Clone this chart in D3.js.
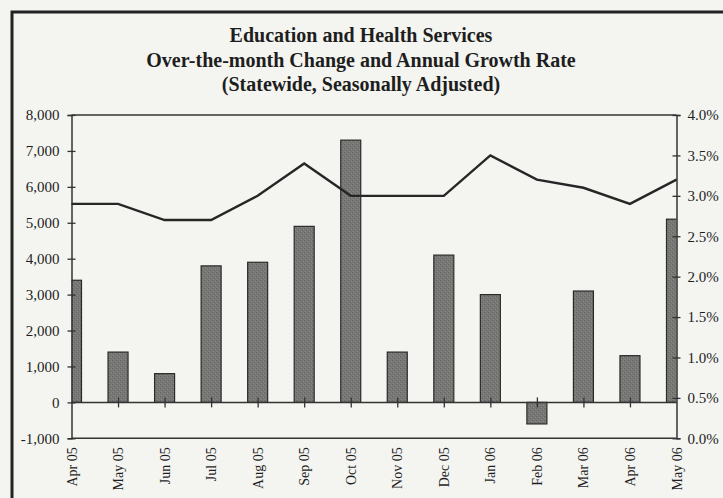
<!DOCTYPE html>
<html><head><meta charset="utf-8">
<script src="https://cdn.jsdelivr.net/npm/d3@7"></script>
<style>
html,body{margin:0;padding:0;background:#f4f5f1;}
svg{display:block;}
text{font-family:"Liberation Serif","Times New Roman",serif;fill:#1e1e1e;}
</style></head>
<body>
<script>
const categories = ["Apr 05","May 05","Jun 05","Jul 05","Aug 05","Sep 05","Oct 05","Nov 05","Dec 05","Jan 06","Feb 06","Mar 06","Apr 06","May 06"];
const monthlyChange = [3400,1400,800,3800,3900,4900,7300,1400,4100,3000,-600,3100,1300,5100];
const annualGrowth = [2.9,2.9,2.7,2.7,3.0,3.4,3.0,3.0,3.0,3.5,3.2,3.1,2.9,3.2];
const leftTicks = [-1000,0,1000,2000,3000,4000,5000,6000,7000,8000];
const rightTicks = [0,0.5,1.0,1.5,2.0,2.5,3.0,3.5,4.0];
const titleLines = ["Education and Health Services","Over-the-month Change and Annual Growth Rate","(Statewide, Seasonally Adjusted)"];

const W=723,H=498;
const svg=d3.select("body").append("svg").attr("width",W).attr("height",H);
svg.append("rect").attr("width",W).attr("height",H).attr("fill","#f4f5f1");

// outer frame
svg.append("path").attr("d","M12,"+H+" L12,12 L"+W+",12").attr("fill","none").attr("stroke","#222").attr("stroke-width",3);

const L=71.5,R=676.5,T=115,B=438.3;
const x=d3.scalePoint().domain(categories).range([L,R]).padding(0);
const yL=d3.scaleLinear().domain([-1000,8000]).range([B,T]);
const yR=d3.scaleLinear().domain([0,4]).range([B,T]);

// title
svg.append("g").selectAll("text").data(titleLines).join("text")
  .attr("x",361).attr("y",(d,i)=>42+i*24.5).attr("text-anchor","middle")
  .style("font-size","20px").style("font-weight","bold").text(d=>d);

// clip
svg.append("clipPath").attr("id","pc").append("rect").attr("x",L).attr("y",T).attr("width",R-L).attr("height",B-T);

// pattern for bars
const defs=svg.append("defs");
const pat=defs.append("pattern").attr("id","grain").attr("patternUnits","userSpaceOnUse").attr("width",4).attr("height",4);
pat.append("rect").attr("width",4).attr("height",4).attr("fill","#777775");
pat.append("rect").attr("x",0).attr("y",0).attr("width",1).attr("height",1).attr("fill","#666664");
pat.append("rect").attr("x",2).attr("y",2).attr("width",1).attr("height",1).attr("fill","#666664");
pat.append("rect").attr("x",1).attr("y",3).attr("width",1).attr("height",1).attr("fill","#8a8a87");
pat.append("rect").attr("x",3).attr("y",1).attr("width",1).attr("height",1).attr("fill","#8a8a87");

const bw=20;
svg.append("g").attr("clip-path","url(#pc)").selectAll("rect").data(monthlyChange).join("rect")
  .attr("x",(d,i)=>x(categories[i])-bw/2)
  .attr("y",d=>yL(Math.max(0,d)))
  .attr("width",bw)
  .attr("height",d=>Math.abs(yL(d)-yL(0)))
  .attr("fill","url(#grain)").attr("stroke","#2a2a2a").attr("stroke-width",1.2);

// frame lines of plot
const axisCol="#333";
svg.append("line").attr("x1",L).attr("x2",R).attr("y1",T).attr("y2",T).attr("stroke",axisCol).attr("stroke-width",1.5);
svg.append("line").attr("x1",L).attr("x2",R).attr("y1",B).attr("y2",B).attr("stroke",axisCol).attr("stroke-width",1.5);
svg.append("line").attr("x1",L).attr("x2",R).attr("y1",yL(0)).attr("y2",yL(0)).attr("stroke",axisCol).attr("stroke-width",1.5);

// left axis
const gl=svg.append("g").attr("transform",`translate(${L},0)`)
  .call(d3.axisLeft(yL).tickValues(leftTicks).tickFormat(d=>d3.format(",")(d).replace("\u2212","-")).tickSize(4).tickPadding(8));
gl.select(".domain").attr("stroke",axisCol).attr("stroke-width",1.5);
gl.selectAll(".tick line").attr("x1",-4).attr("x2",4).attr("stroke",axisCol).attr("stroke-width",1.3);
gl.selectAll(".tick text").style("font-size","15px").attr("font-family",null).attr("fill","#1e1e1e");

// right axis
const gr=svg.append("g").attr("transform",`translate(${R},0)`)
  .call(d3.axisRight(yR).tickValues(rightTicks).tickFormat(d=>d3.format(".1f")(d)+"%").tickSize(4).tickPadding(7));
gr.select(".domain").attr("stroke",axisCol).attr("stroke-width",1.5);
gr.selectAll(".tick line").attr("x1",-4).attr("x2",4).attr("stroke",axisCol).attr("stroke-width",1.3);
gr.selectAll(".tick text").style("font-size","15px").attr("font-family",null).attr("fill","#1e1e1e");

// category ticks on zero line
const gx=svg.append("g").attr("transform",`translate(0,${yL(0)})`)
  .call(d3.axisBottom(x).tickSize(5).tickFormat(""));
gx.select(".domain").remove();
gx.selectAll(".tick line").attr("y1",-5).attr("y2",5).attr("stroke",axisCol).attr("stroke-width",1.3);
gx.selectAll(".tick").filter((d,i)=>i===0||i===categories.length-1).remove();

// category labels
svg.append("g").selectAll("text").data(categories).join("text")
  .attr("transform",d=>`translate(${x(d)+5},${B+9}) rotate(-90)`)
  .attr("text-anchor","end").style("font-size","14px").text(d=>d);

// growth line
svg.append("path").datum(annualGrowth)
  .attr("d",d3.line().x((d,i)=>x(categories[i])).y(d=>yR(d)))
  .attr("fill","none").attr("stroke","#262626").attr("stroke-width",2.4).attr("stroke-linejoin","miter");
</script>
</body></html>
